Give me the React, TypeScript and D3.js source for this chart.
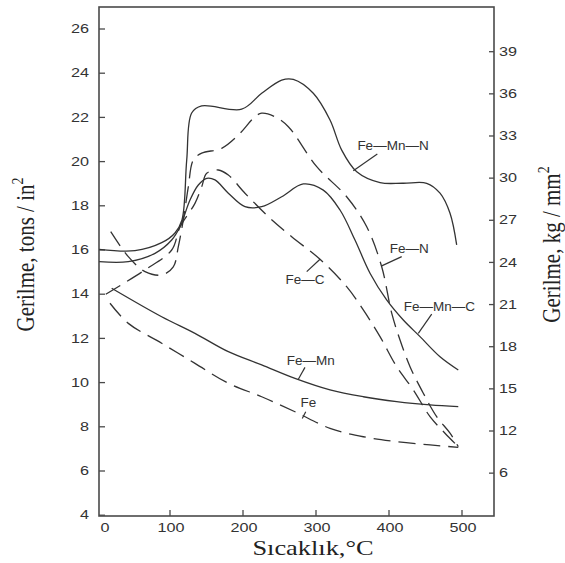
import React from "react";
import * as d3 from "d3";

const W = 565;
const H = 563;
const frame = { left: 99, right: 494, top: 7, bottom: 516 };

// Axis ticks
const leftTicks = [26, 24, 22, 20, 18, 16, 14, 12, 10, 8, 6, 4];
const rightTickValues = [39, 36, 33, 30, 27, 24, 21, 18, 15, 12, 9];
const rightTickLabels = ["39", "36", "33", "30", "27", "24", "21", "18", "15", "12", "6"];
const xTickMarks = [100, 200, 300, 400, 500];
const xTickLabels = [0, 100, 200, 300, 400, 500];

// Series (temperature °C, stress tons/in²)
const feMnN_T = [3, 52, 88.6, 106.8, 116.4, 122.9, 129.7, 143.4, 198.2, 225.6, 253, 268.9, 296.3, 319.2, 335.2, 355.8, 387.7, 419.2, 451.6, 469.9, 483.6, 492.7];
const feMnN_S = [16.03, 15.97, 16.33, 16.77, 17.36, 20.07, 22.2, 22.52, 22.37, 23.09, 23.69, 23.72, 23.09, 21.88, 20.52, 19.54, 19.05, 19.02, 19.02, 18.57, 17.66, 16.23];

const feN_T = [18.8, 42.9, 65.8, 88.6, 104.5, 111.4, 118.2, 125.1, 131.9, 143.4, 170.8, 193.6, 216.4, 225.6, 243.8, 262.1, 301, 342, 369.5, 390, 403.7, 415.1, 428.8, 447, 465.3, 483.6, 494.9];
const feN_S = [16.83, 15.7, 15.02, 14.87, 15.24, 16.15, 17.36, 18.86, 20.07, 20.38, 20.6, 21.2, 22.03, 22.19, 22.03, 21.58, 19.77, 18.41, 17.05, 15.24, 13.14, 11.93, 10.72, 9.52, 8.46, 7.71, 7.1];

const feC_T = [12, 65.8, 102.3, 113.7, 134.2, 143.4, 150.3, 166.2, 179.9, 202.7, 234.7, 266.7, 305.5, 342, 364.8, 387.7, 410.5, 433.3, 456.2, 476.7, 494.9];
const feC_S = [14.0, 15.1, 16.0, 17.04, 18.11, 18.86, 19.47, 19.62, 19.39, 18.57, 17.51, 16.6, 15.58, 14.34, 13.29, 12.08, 10.72, 9.67, 8.46, 7.71, 7.1];

const feMnC_T = [3, 42.9, 79.5, 102.3, 113.7, 127.4, 138.8, 150.3, 161.6, 179.9, 202.7, 225.6, 253, 282.6, 310, 332.9, 353.4, 374, 396.8, 419.6, 442.5, 469.9, 494.9];
const feMnC_S = [15.47, 15.47, 15.85, 16.45, 17.05, 18.26, 18.94, 19.24, 19.17, 18.57, 17.96, 17.96, 18.41, 18.99, 18.71, 17.81, 16.45, 14.95, 13.74, 12.83, 12.08, 11.17, 10.57];

const feMn_T = [20.1, 88.6, 134.2, 179.9, 225.6, 271.2, 319.2, 364.8, 410.5, 456.2, 494.9];
const feMn_S = [14.27, 12.98, 12.23, 11.4, 10.8, 10.19, 9.67, 9.36, 9.14, 8.99, 8.91];

const fe_T = [17.8, 42.9, 88.6, 134.2, 179.9, 225.6, 271.2, 319.2, 364.8, 410.5, 456.2, 494.9];
const fe_S = [13.59, 12.68, 11.78, 10.87, 9.97, 9.36, 8.68, 7.93, 7.55, 7.33, 7.18, 7.07];

// Curve labels and leader lines (data units)
const labelNames = ["Fe—Mn—N", "Fe—N", "Fe—C", "Fe—Mn—C", "Fe—Mn", "Fe"];
const labelT = [405.5, 427.7, 284.9, 468.9, 292.9, 289.5];
const labelS = [20.71, 16.08, 14.67, 13.44, 11.02, 9.09];
const leaderT1 = [384, 417.4, 287.3, 458.5, 284.9, 285.9];
const leaderS1 = [20.34, 15.7, 15.02, 13.1, 10.69, 8.68];
const leaderT2 = [351.1, 390, 305.5, 440.1, 275.8, 281.2];
const leaderS2 = [19.59, 15.28, 15.58, 12.23, 10.15, 8.38];

const series = [
  { t: feMnN_T, s: feMnN_S, dashed: false },
  { t: feN_T, s: feN_S, dashed: true },
  { t: feC_T, s: feC_S, dashed: true },
  { t: feMnC_T, s: feMnC_S, dashed: false },
  { t: feMn_T, s: feMn_S, dashed: false },
  { t: fe_T, s: fe_S, dashed: true },
];

export default function App() {
  const x = d3.scaleLinear().domain([0, 500]).range([97, 462]);
  const y = d3.scaleLinear().domain([26, 6]).range([29, 471]);
  const yR = d3.scaleLinear().domain([39, 12]).range([51.7, 431]);

  const line = d3
    .line<[number, number]>()
    .x((d) => x(d[0]))
    .y((d) => y(d[1]))
    .curve(d3.curveCatmullRom.alpha(0.5));

  const axisColor = "#4a4a4a";
  const inkColor = "#333";
  const sans = "'Liberation Sans', Arial, Helvetica, sans-serif";
  const serif = "'Liberation Serif', 'Times New Roman', serif";

  return (
    <svg width={W} height={H} style={{ position: "absolute", left: 0, top: 0, background: "#fff" }}>
      <rect x={0} y={0} width={W} height={H} fill="#fff" />
      {/* frame */}
      <rect
        x={frame.left}
        y={frame.top}
        width={frame.right - frame.left}
        height={frame.bottom - frame.top}
        fill="none"
        stroke={axisColor}
        strokeWidth={1.6}
      />
      {/* left ticks */}
      {leftTicks.map((v) => (
        <g key={"l" + v}>
          <line x1={frame.left} x2={frame.left + 6} y1={y(v)} y2={y(v)} stroke={axisColor} strokeWidth={1.3} />
          <g transform={`translate(89,${y(v)}) scale(1.35,1)`}>
            <text textAnchor="end" dominantBaseline="central" fontFamily={sans} fontSize={12} fill={inkColor}>
              {v}
            </text>
          </g>
        </g>
      ))}
      {/* right ticks */}
      {rightTickValues.map((v, i) => (
        <g key={"r" + v}>
          <line x1={frame.right - 5} x2={frame.right} y1={yR(v)} y2={yR(v)} stroke={axisColor} strokeWidth={1.3} />
          <g transform={`translate(499,${yR(v)}) scale(1.35,1)`}>
            <text textAnchor="start" dominantBaseline="central" fontFamily={sans} fontSize={12} fill={inkColor}>
              {rightTickLabels[i]}
            </text>
          </g>
        </g>
      ))}
      {/* bottom ticks */}
      {xTickMarks.map((v) => (
        <line key={"b" + v} x1={x(v)} x2={x(v)} y1={frame.bottom} y2={frame.bottom - 6} stroke={axisColor} strokeWidth={1.3} />
      ))}
      {xTickLabels.map((v) => (
        <g key={"bl" + v} transform={`translate(${x(v) + (v === 0 ? 8 : 1)},528) scale(1.35,1)`}>
          <text textAnchor="middle" dominantBaseline="central" fontFamily={sans} fontSize={12} fill={inkColor}>
            {v}
          </text>
        </g>
      ))}
      {/* curves */}
      {series.map((sr, i) => (
        <path
          key={"c" + i}
          d={line(sr.t.map((t, j) => [t, sr.s[j]] as [number, number])) || ""}
          fill="none"
          stroke={inkColor}
          strokeWidth={1.3}
          strokeDasharray={sr.dashed ? "17,8" : undefined}
        />
      ))}
      {/* labels */}
      {labelNames.map((n, i) => (
        <g key={"lab" + i}>
          <line
            x1={x(leaderT1[i])}
            y1={y(leaderS1[i])}
            x2={x(leaderT2[i])}
            y2={y(leaderS2[i])}
            stroke={inkColor}
            strokeWidth={1.2}
          />
          <text
            x={x(labelT[i])}
            y={y(labelS[i])}
            textAnchor="middle"
            dominantBaseline="central"
            fontFamily={sans}
            fontSize={13.5}
            fill={inkColor}
          >
            {n}
          </text>
        </g>
      ))}
      {/* axis titles */}
      <g transform="translate(313,555) scale(1.2,1)">
        <text textAnchor="middle" fontFamily={serif} fontSize={22} fill="#222">
          Sıcaklık,°C
        </text>
      </g>
      <g transform="translate(33.5,254.5) scale(1.2,1) rotate(-90)">
        <text textAnchor="middle" fontFamily={serif} fontSize={21} fill="#222">
          Gerilme, tons / in
          <tspan dy={-9} fontSize={14}>2</tspan>
        </text>
      </g>
      <g transform="translate(560,244.5) scale(1.2,1) rotate(-90)">
        <text textAnchor="middle" fontFamily={serif} fontSize={21} fill="#222">
          Gerilme, kg / mm
          <tspan dy={-9} fontSize={14}>2</tspan>
        </text>
      </g>
    </svg>
  );
}
